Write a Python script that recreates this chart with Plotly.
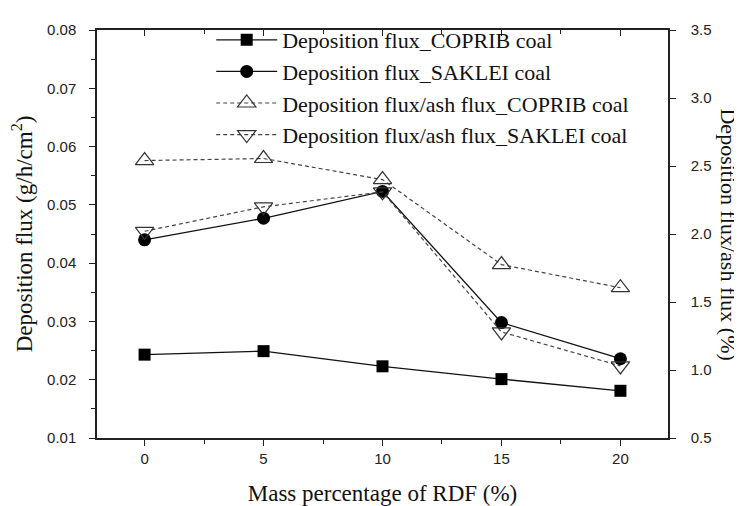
import plotly.graph_objects as go

rdf = [0, 5, 10, 15, 20]
flux_coprib = [0.0243, 0.0249, 0.0223, 0.0201, 0.0181]
flux_saklei = [0.0440, 0.0477, 0.0523, 0.0298, 0.0236]
ratio_coprib = [2.54, 2.555, 2.40, 1.775, 1.605]
ratio_saklei = [2.02, 2.20, 2.31, 1.28, 1.03]

names = ["Deposition flux_COPRIB coal",
         "Deposition flux_SAKLEI coal",
         "Deposition flux/ash flux_COPRIB coal",
         "Deposition flux/ash flux_SAKLEI coal"]

serif = "Liberation Serif, Times New Roman, serif"
sans = "Liberation Sans, Arial, sans-serif"

fig = go.Figure()
fig.add_trace(go.Scatter(x=rdf, y=flux_coprib, name=names[0], mode="lines+markers",
                         line=dict(color="#111", width=1.3),
                         marker=dict(symbol="square", size=12, color="black")))
fig.add_trace(go.Scatter(x=rdf, y=flux_saklei, name=names[1], mode="lines+markers",
                         line=dict(color="#111", width=1.3),
                         marker=dict(symbol="circle", size=13, color="black")))
fig.add_trace(go.Scatter(x=rdf, y=ratio_coprib, name=names[2], mode="lines+markers", yaxis="y2",
                         line=dict(color="#444", width=1.2, dash="4px,3px"),
                         marker=dict(symbol="triangle-up-open", size=16, color="#333",
                                     line=dict(width=1.2))))
fig.add_trace(go.Scatter(x=rdf, y=ratio_saklei, name=names[3], mode="lines+markers", yaxis="y2",
                         line=dict(color="#444", width=1.2, dash="4px,3px"),
                         marker=dict(symbol="triangle-down-open", size=16, color="#333",
                                     line=dict(width=1.2))))
# invisible helper trace for top-frame inward ticks
fig.add_trace(go.Scatter(x=rdf, y=flux_coprib, xaxis="x2", mode="markers",
                         marker=dict(opacity=0), showlegend=False, hoverinfo="skip"))

fig.update_layout(
    width=734, height=498,
    margin=dict(l=89, r=74, t=11, b=68),
    paper_bgcolor="white", plot_bgcolor="white",
    showlegend=True,
    legend=dict(x=0.2, y=1.027, xanchor="left", yanchor="top",
                font=dict(family=serif, size=22, color="#111"),
                bgcolor="rgba(0,0,0,0)", tracegroupgap=0, itemwidth=61),
    xaxis=dict(range=[-2, 22], tickvals=rdf, ticks="outside", ticklen=6, tickwidth=1.2,
               tickcolor="#222", showline=True, linecolor="#222", linewidth=1.5, mirror=True,
               showgrid=False, zeroline=False, automargin=False,
               minor=dict(dtick=2.5, tick0=0, ticks="outside", ticklen=4, tickcolor="#222"),
               tickfont=dict(family=sans, size=15, color="#222"),
               title=dict(text="Mass percentage of RDF (%)", font=dict(family=serif, size=23, color="#111"),
                          standoff=19)),
    xaxis2=dict(range=[-2, 22], overlaying="x", side="top", tickvals=rdf, ticks="inside",
                ticklen=6, tickwidth=1.2, tickcolor="#222", showticklabels=False,
                showgrid=False, zeroline=False, automargin=False,
                minor=dict(dtick=2.5, tick0=0, ticks="inside", ticklen=4, tickcolor="#222")),
    yaxis=dict(range=[0.01, 0.08], dtick=0.01, tickformat=".2f", ticks="outside", ticklen=6,
               tickwidth=1.2, tickcolor="#222", showline=True, linecolor="#222", linewidth=1.5,
               showgrid=False, zeroline=False, automargin=False, ticklabelstandoff=10,
               minor=dict(dtick=0.005, ticks="outside", ticklen=4, tickcolor="#222"),
               tickfont=dict(family=sans, size=15, color="#222"),
               title=dict(text="Deposition flux (g/h/cm<sup>2</sup>)",
                          font=dict(family=serif, size=23, color="#111"), standoff=9)),
    yaxis2=dict(range=[0.5, 3.5], dtick=0.5, tickformat=".1f", overlaying="y", side="right",
                ticks="outside", ticklen=6, tickwidth=1.2, tickcolor="#222", showline=True,
                linecolor="#222", linewidth=1.5, showgrid=False, zeroline=False,
                automargin=False, ticklabelstandoff=12,
                tickfont=dict(family=sans, size=15, color="#222")),
)

fig.add_annotation(text="Deposition flux/ash flux (%)", textangle=90, xref="paper", yref="paper",
                   x=1.106, y=0.5, showarrow=False, xanchor="center", yanchor="middle",
                   font=dict(family=serif, size=22, color="#111"))

fig.write_html("out.html")
